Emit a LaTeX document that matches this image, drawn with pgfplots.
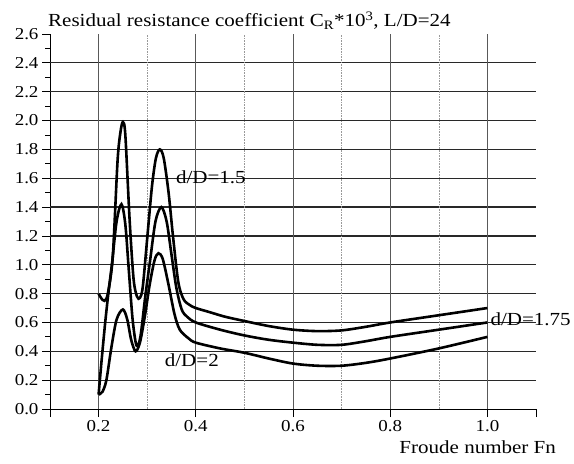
\documentclass[border=0pt]{standalone}
\usepackage{fontspec}
\setmainfont{Liberation Serif}[FakeStretch=1.14]
\usepackage{pgfplots}
\pgfplotsset{compat=1.18}
\definecolor{gridh}{RGB}{40,40,40}
\newcommand{\bigf}{\fontsize{18.5}{21}\selectfont}
\newcommand{\tickf}{\fontsize{16.7}{19}\selectfont}
\begin{document}
\begin{tikzpicture}
\path[use as bounding box] (-50bp,-55bp) rectangle (524bp,409bp);
\begin{axis}[
  at={(0,0)}, anchor=south west,
  scale only axis, width=486bp, height=375bp,
  xmin=0.1, xmax=1.1, ymin=0, ymax=2.6,
  axis x line=bottom, axis y line=left,
  axis line style={-, line width=0.8bp, black},
  xtick={0.2,0.4,0.6,0.8,1.0},
  extra x ticks={0.1,1.1}, extra x tick labels={},
  ytick={0,0.2,...,2.61},
  minor ytick={0.1,0.3,...,2.51},
  tick align=outside,
  major tick length=8bp, minor tick length=5bp,
  tick style={black, line width=0.8bp},
  xticklabel style={/pgf/number format/.cd, fixed, fixed zerofill, precision=1},
  yticklabel style={/pgf/number format/.cd, fixed, fixed zerofill, precision=1},
  /pgf/number format/assume math mode=true,
  tick label style={font=\tickf},
  xlabel={Froude number Fn},
  every axis x label/.style={at={(axis description cs:0.88,0)}, anchor=base, yshift=-44bp, font=\bigf},
  clip=false,
]
% horizontal grid lines
\draw[gridh, line width=1.2bp] (axis cs:0.1,0.2) -- (axis cs:1.1,0.2);
\draw[gridh, line width=1.2bp] (axis cs:0.1,0.4) -- (axis cs:1.1,0.4);
\draw[gridh, line width=1.2bp] (axis cs:0.1,0.6) -- (axis cs:1.1,0.6);
\draw[gridh, line width=1.2bp] (axis cs:0.1,0.8) -- (axis cs:1.1,0.8);
\draw[gridh, line width=1.2bp] (axis cs:0.1,1.0) -- (axis cs:1.1,1.0);
\draw[gridh, line width=1.2bp] (axis cs:0.1,1.2) -- (axis cs:1.1,1.2);
\draw[gridh, line width=1.2bp] (axis cs:0.1,1.4) -- (axis cs:1.1,1.4);
\draw[gridh, line width=1.2bp] (axis cs:0.1,1.6) -- (axis cs:1.1,1.6);
\draw[gridh, line width=1.2bp] (axis cs:0.1,1.8) -- (axis cs:1.1,1.8);
\draw[gridh, line width=1.2bp] (axis cs:0.1,2.0) -- (axis cs:1.1,2.0);
\draw[gridh, line width=1.2bp] (axis cs:0.1,2.2) -- (axis cs:1.1,2.2);
\draw[gridh, line width=1.2bp] (axis cs:0.1,2.4) -- (axis cs:1.1,2.4);
\pgfplotsinvokeforeach{0.2,0.4,0.6,0.8,1.0}{
  \draw[black!65, line width=0.9bp] (axis cs:#1,0) -- (axis cs:#1,2.6);
}
\pgfplotsinvokeforeach{0.3,0.5,0.7,0.9}{
  \draw[black!40, line width=0.6bp, densely dotted] (axis cs:#1,0) -- (axis cs:#1,2.6);
}
% d/D = 1.5
\addplot[black, line width=2.6bp, smooth, tension=0.5] coordinates {
(0.2,0.80) (0.205,0.77) (0.212,0.75) (0.219,0.80) (0.229,1.05) (0.239,1.72) (0.245,1.92) (0.25,1.99) (0.255,1.90) (0.264,1.30) (0.272,0.90) (0.279,0.78) (0.285,0.77) (0.291,0.85) (0.301,1.22) (0.31,1.55) (0.318,1.74) (0.326,1.80) (0.334,1.74) (0.344,1.50) (0.353,1.20) (0.364,0.88) (0.375,0.76) (0.388,0.72) (0.40,0.70) (0.43,0.67) (0.46,0.64) (0.5,0.61) (0.55,0.575) (0.6,0.55) (0.65,0.54) (0.7,0.545) (0.75,0.57) (0.8,0.60) (0.9,0.65) (1.0,0.70)
};
% d/D = 1.75
\addplot[black, line width=2.6bp, smooth, tension=0.5] coordinates {
(0.2,0.10) (0.206,0.33) (0.213,0.58) (0.22,0.80) (0.228,1.02) (0.237,1.30) (0.247,1.42) (0.255,1.28) (0.262,0.97) (0.27,0.62) (0.278,0.44) (0.286,0.50) (0.296,0.78) (0.306,1.03) (0.317,1.30) (0.329,1.40) (0.34,1.30) (0.35,1.07) (0.36,0.84) (0.371,0.69) (0.382,0.64) (0.40,0.60) (0.45,0.55) (0.5,0.51) (0.55,0.48) (0.6,0.46) (0.65,0.445) (0.7,0.445) (0.75,0.47) (0.8,0.50) (0.9,0.55) (1.0,0.60)
};
% d/D = 2
\addplot[black, line width=2.6bp, smooth, tension=0.5] coordinates {
(0.2,0.10) (0.208,0.12) (0.216,0.20) (0.226,0.42) (0.237,0.62) (0.25,0.69) (0.259,0.62) (0.267,0.48) (0.276,0.40) (0.285,0.46) (0.295,0.64) (0.305,0.86) (0.315,1.03) (0.323,1.08) (0.332,1.04) (0.344,0.86) (0.356,0.66) (0.367,0.55) (0.385,0.49) (0.40,0.46) (0.45,0.42) (0.5,0.39) (0.55,0.35) (0.6,0.315) (0.65,0.30) (0.7,0.30) (0.75,0.32) (0.8,0.35) (0.9,0.42) (1.0,0.50)
};
\node[anchor=west, font=\bigf, inner sep=0pt] at (axis cs:0.359,1.61) {d/D=1.5};
\node[anchor=west, font=\bigf, inner sep=0pt] at (axis cs:0.336,0.34) {d/D=2};
\node[anchor=west, font=\bigf, inner sep=0pt] at (axis cs:1.006,0.62) {d/D=1.75};
\end{axis}
\node[anchor=base west, font=\bigf, inner sep=0pt] at (-2bp,382bp) {Residual resistance coefficient C\textsubscript{R}*10\textsuperscript{3}, L/D=24};
\end{tikzpicture}
\end{document}
